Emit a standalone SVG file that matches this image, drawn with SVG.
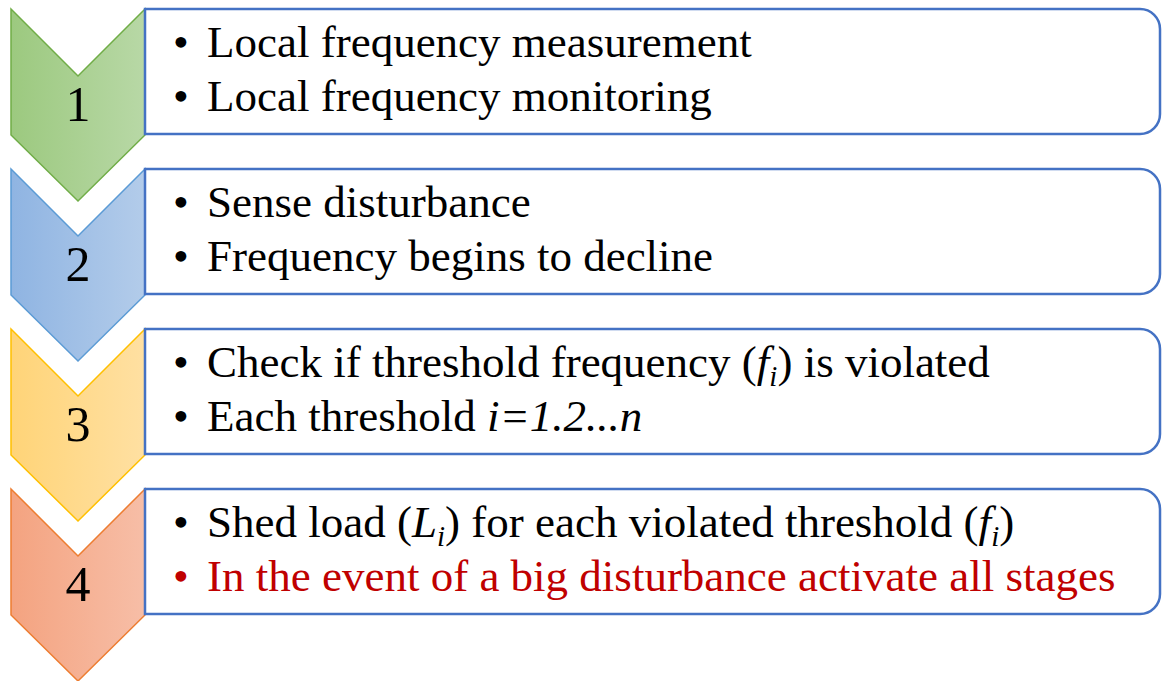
<svg xmlns="http://www.w3.org/2000/svg" width="1162" height="681" viewBox="0 0 1162 681">
  <defs>
    <linearGradient id="gGreen" x1="0" y1="0" x2="1" y2="0">
      <stop offset="0" stop-color="#9CC97F"/>
      <stop offset="1" stop-color="#B8D8A6"/>
    </linearGradient>
    <linearGradient id="gBlue" x1="0" y1="0" x2="1" y2="0">
      <stop offset="0" stop-color="#8FB4E2"/>
      <stop offset="1" stop-color="#B3CCEA"/>
    </linearGradient>
    <linearGradient id="gYellow" x1="0" y1="0" x2="1" y2="0">
      <stop offset="0" stop-color="#FFD478"/>
      <stop offset="1" stop-color="#FFE0A2"/>
    </linearGradient>
    <linearGradient id="gOrange" x1="0" y1="0" x2="1" y2="0">
      <stop offset="0" stop-color="#F4A380"/>
      <stop offset="1" stop-color="#F7BEA7"/>
    </linearGradient>
    <path id="chev" d="M0,0 L67,67 L134,0 L134,126 L67,192 L0,126 Z"/>
    <path id="box" d="M0,0 H995 A20,20 0 0 1 1015,20 V105 A20,20 0 0 1 995,125 H0 Z"/>
  </defs>
  <style>
    .box { fill: #FFFFFF; stroke: #4472C4; stroke-width: 2.5; }
    text { font-family: "Liberation Serif", Tinos, "Times New Roman", Times, "DejaVu Serif", serif; }
    .num { font-size: 50px; fill: #000000; text-anchor: middle; }
    .txt { font-size: 45px; fill: #000000; }
    .red { fill: #C00000; }
    .it { font-style: italic; }
    .sub { font-size: 29px; font-style: italic; }
  </style>

  <g id="step1" transform="translate(11,9)">
    <use href="#chev" fill="url(#gGreen)" stroke="#70AD47" stroke-width="1.5"/>
    <text class="num" x="67" y="112">1</text>
    <use href="#box" x="134" class="box"/>
    <text class="txt" x="162" y="48">•<tspan x="196">Local frequency measurement</tspan></text>
    <text class="txt" x="162" y="102">•<tspan x="196">Local frequency monitoring</tspan></text>
  </g>

  <g id="step2" transform="translate(11,169)">
    <use href="#chev" fill="url(#gBlue)" stroke="#5B9BD5" stroke-width="1.5"/>
    <text class="num" x="67" y="112">2</text>
    <use href="#box" x="134" class="box"/>
    <text class="txt" x="162" y="48">•<tspan x="196">Sense disturbance</tspan></text>
    <text class="txt" x="162" y="102">•<tspan x="196">Frequency begins to decline</tspan></text>
  </g>

  <g id="step3" transform="translate(11,329)">
    <use href="#chev" fill="url(#gYellow)" stroke="#FFC000" stroke-width="1.5"/>
    <text class="num" x="67" y="112">3</text>
    <use href="#box" x="134" class="box"/>
    <text class="txt" x="162" y="48">•<tspan x="196">Check if threshold frequency (</tspan><tspan class="it">f</tspan><tspan class="sub" dy="9">i</tspan><tspan dy="-9">) is violated</tspan></text>
    <text class="txt" x="162" y="102">•<tspan x="196">Each threshold </tspan><tspan class="it">i=1.2...n</tspan></text>
  </g>

  <g id="step4" transform="translate(11,489)">
    <use href="#chev" fill="url(#gOrange)" stroke="#ED7D31" stroke-width="1.5"/>
    <text class="num" x="67" y="112">4</text>
    <use href="#box" x="134" class="box"/>
    <text class="txt" x="162" y="48">•<tspan x="196">Shed load (</tspan><tspan class="it">L</tspan><tspan class="sub" dy="9">i</tspan><tspan dy="-9">) for each violated threshold (</tspan><tspan class="it">f</tspan><tspan class="sub" dy="9">i</tspan><tspan dy="-9">)</tspan></text>
    <text class="txt red" x="162" y="102">•<tspan x="196">In the event of a big disturbance activate all stages</tspan></text>
  </g>

  <g id="connectors"/>
</svg>
